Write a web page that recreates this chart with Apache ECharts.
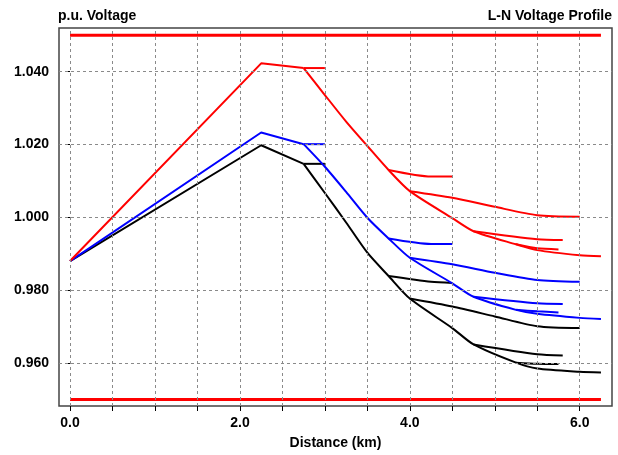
<!DOCTYPE html>
<html>
<head>
<meta charset="utf-8">
<script src="https://cdn.jsdelivr.net/npm/echarts@6/dist/echarts.min.js"></script>
<style>html,body{margin:0;padding:0;background:#fff}#c{width:618px;height:455px}</style>
</head>
<body>
<div id="c"></div>
<script>
// ---- data ----
const mainKm    = [0, 2.25, 2.75, 3.0, 3.25, 3.5, 3.75, 4.0, 4.5, 4.75, 5.25, 5.5, 6.0, 6.25];
const redMain   = [0.9880, 1.0423, 1.0410, 1.0336, 1.0263, 1.0196, 1.0130, 1.0072, 0.9998, 0.9962, 0.9926, 0.9910, 0.9896, 0.9893];
const blueMain  = [0.9880, 1.0233, 1.0201, 1.0139, 1.0070, 0.9999, 0.9942, 0.9889, 0.9819, 0.9782, 0.9746, 0.9735, 0.9724, 0.9721];
const blackMain = [0.9880, 1.0198, 1.0147, 1.0067, 0.9986, 0.9903, 0.9839, 0.9777, 0.9696, 0.9651, 0.9601, 0.9585, 0.9576, 0.9574];

const br0Km    = [2.75, 3.0];
const redBr0   = [1.0410, 1.0410];
const blueBr0  = [1.0201, 1.0201];
const blackBr0 = [1.0147, 1.0147];

const br1Km    = [3.75, 4.25, 4.5];
const redBr1   = [1.0130, 1.0112, 1.0112];
const blueBr1  = [0.9942, 0.9927, 0.9927];
const blackBr1 = [0.9839, 0.9823, 0.9820];

const br2Km    = [4.0, 4.5, 5.0, 5.5, 6.0];
const redBr2   = [1.0072, 1.0054, 1.0029, 1.0006, 1.0002];
const blueBr2  = [0.9889, 0.9871, 0.9848, 0.9828, 0.9823];
const blackBr2 = [0.9777, 0.9755, 0.9728, 0.9701, 0.9696];

const br3Km    = [4.75, 5.5, 5.8];
const redBr3   = [0.9962, 0.9940, 0.9938];
const blueBr3  = [0.9782, 0.9764, 0.9762];
const blackBr3 = [0.9651, 0.9624, 0.9621];

const br4Km    = [5.25, 5.5, 5.75];
const redBr4   = [0.9926, 0.9915, 0.9912];
const blueBr4  = [0.9746, 0.9742, 0.9739];
const blackBr4 = [0.9601, 0.9598, 0.9597];

const limitKm   = [0, 6.25];
const upperLim  = 1.05;
const lowerLim  = 0.95;

const xTickVals  = [0, 0.5, 1, 1.5, 2, 2.5, 3, 3.5, 4, 4.5, 5, 5.5, 6];
const xLabelVals = [0, 2, 4, 6];
const yTickVals  = [0.96, 0.98, 1.00, 1.02, 1.04];

// ---- chart ----
const zip = (xs, ys) => xs.map((x, i) => [x, ys[i]]);
const FONT = '"Liberation Sans", Arial, sans-serif';
const SPLIT = 2; // index of the 2.75 km junction: straight rise before, smooth descent after

const phases = [
  {color: '#000000', main: blackMain, segs: [[br0Km, blackBr0], [br1Km, blackBr1], [br2Km, blackBr2], [br3Km, blackBr3], [br4Km, blackBr4]]},
  {color: '#0000ff', main: blueMain,  segs: [[br0Km, blueBr0], [br1Km, blueBr1], [br2Km, blueBr2], [br3Km, blueBr3], [br4Km, blueBr4]]},
  {color: '#ff0000', main: redMain,   segs: [[br0Km, redBr0], [br1Km, redBr1], [br2Km, redBr2], [br3Km, redBr3], [br4Km, redBr4]]}
];

const series = [];
series.push({
  type: 'line', data: [], z: 1, silent: true,
  markLine: {
    silent: true, symbol: ['none', 'none'], label: {show: false},
    lineStyle: {type: [3, 3], color: '#8a8a8a', width: 1},
    data: xTickVals.map(v => ({xAxis: v})).concat(yTickVals.map(v => ({yAxis: v})))
  }
});
const addLine = (data, color, smooth) => series.push({
  type: 'line', data: data, showSymbol: false, symbol: 'none', smooth: smooth,
  silent: true, z: 3, lineStyle: {color: color, width: 2}
});
phases.forEach(p => {
  addLine(zip(mainKm.slice(0, SPLIT + 1), p.main.slice(0, SPLIT + 1)), p.color, false);
  addLine(zip(mainKm.slice(SPLIT), p.main.slice(SPLIT)), p.color, 0.25);
  p.segs.forEach(s => addLine(zip(s[0], s[1]), p.color, 0.25));
});
[upperLim, lowerLim].forEach(v => {
  series.push({
    type: 'line', data: zip(limitKm, limitKm.map(() => v)), showSymbol: false, symbol: 'none',
    silent: true, z: 4, lineStyle: {color: '#ff0000', width: 3}
  });
});

const chart = echarts.init(document.getElementById('c'), null, {renderer: 'canvas'});
chart.setOption({
  animation: false,
  backgroundColor: '#ffffff',
  title: [
    {text: 'p.u. Voltage', left: 58, top: 9, padding: 0,
     textStyle: {fontFamily: FONT, fontSize: 14, fontWeight: 'bold', color: '#000'}},
    {text: 'L-N Voltage Profile', right: 6, top: 9, padding: 0,
     textStyle: {fontFamily: FONT, fontSize: 14, fontWeight: 'bold', color: '#000'}}
  ],
  grid: {left: 59, right: 6, top: 28, bottom: 44, show: true, borderColor: '#444', borderWidth: 1.5, backgroundColor: 'transparent'},
  xAxis: {
    type: 'value', min: -0.13, max: 6.38,
    name: 'Distance (km)', nameLocation: 'middle', nameGap: 30,
    nameTextStyle: {fontFamily: FONT, fontSize: 14, fontWeight: 'bold', color: '#000'},
    axisLine: {show: false},
    splitLine: {show: false},
    axisTick: {show: true, length: 5, customValues: xTickVals, lineStyle: {color: '#000'}},
    axisLabel: {customValues: xLabelVals, margin: 10, fontFamily: FONT, fontSize: 14, fontWeight: 'bold', color: '#000',
      formatter: v => v.toFixed(1)}
  },
  yAxis: {
    type: 'value', min: 0.9482, max: 1.052,
    axisLine: {show: false},
    splitLine: {show: false},
    axisTick: {show: true, length: 5, customValues: yTickVals, lineStyle: {color: '#000'}},
    axisLabel: {customValues: yTickVals, margin: 10, fontFamily: FONT, fontSize: 14, fontWeight: 'bold', color: '#000',
      formatter: v => v.toFixed(3)}
  },
  series: series
});
</script>
</body>
</html>
